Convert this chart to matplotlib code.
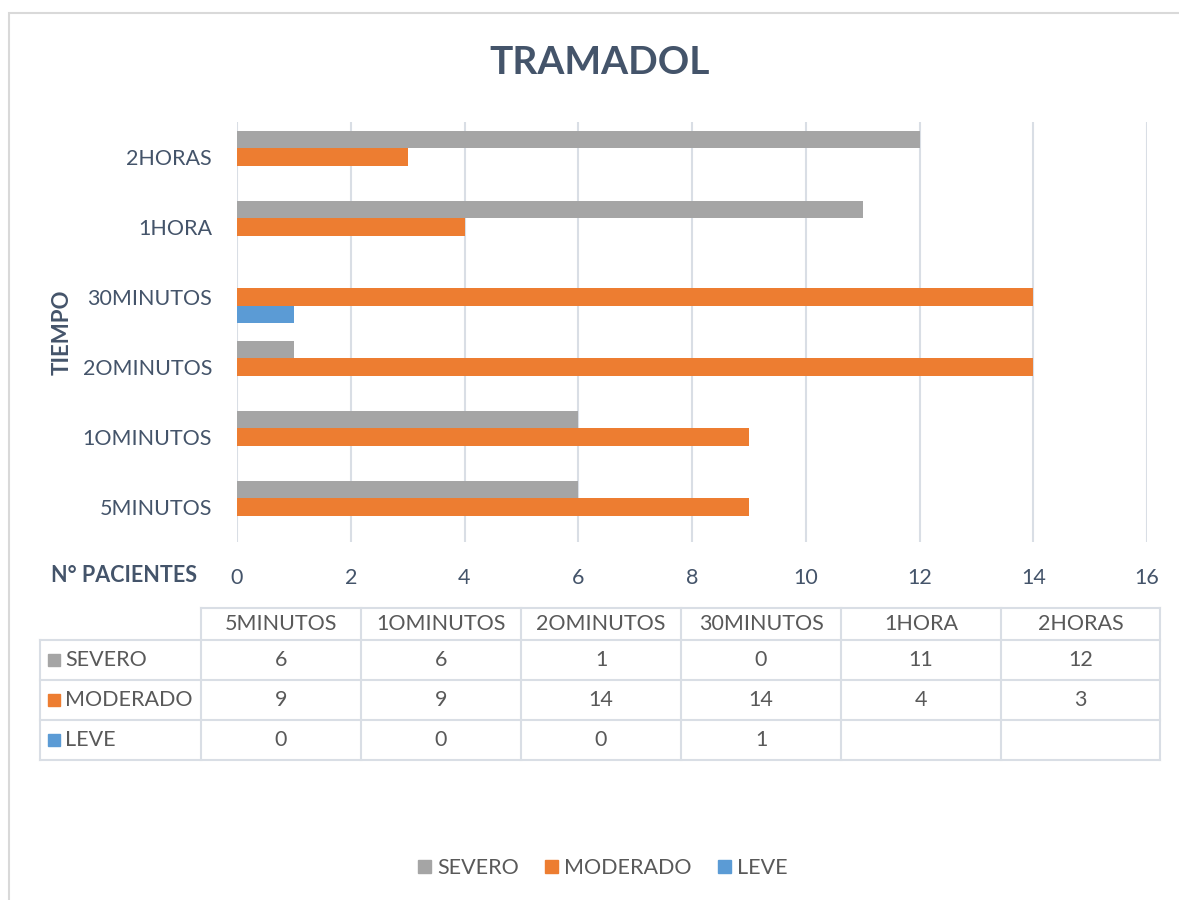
import numpy as np
import matplotlib
matplotlib.use("Agg")
import matplotlib.pyplot as plt
from matplotlib.patches import Rectangle, Patch
from matplotlib.lines import Line2D

categories = ["5MINUTOS", "1OMINUTOS", "2OMINUTOS", "30MINUTOS", "1HORA", "2HORAS"]
severo = [6, 6, 1, 0, 11, 12]
moderado = [9, 9, 14, 14, 4, 3]
leve = [0, 0, 0, 1, None, None]
series_names = ["SEVERO", "MODERADO", "LEVE"]
colors = ["#A5A5A5", "#ED7D31", "#5B9BD5"]
xticks = [0, 2, 4, 6, 8, 10, 12, 14, 16]

plt.rcParams['font.family'] = ['Lato', 'DejaVu Sans']
W, H = 1179, 900
SLATE = "#44546A"
GREY_TXT = "#595959"
LINE = "#D9DEE5"
FS = 15.5

fig = plt.figure(figsize=(W / 100, H / 100), dpi=100)

def fx(px):
    return px / W

def fy(py):
    return 1 - py / H

# outer chart frame
fig.patches.append(Rectangle((fx(9), fy(950)), fx(1200 - 9), (950 - 13) / H,
                             transform=fig.transFigure, fill=False,
                             edgecolor="#D9D9D9", lw=1.5))

ax = fig.add_axes([fx(237), fy(542), fx(1147 - 237), (542 - 122) / H])
y = np.arange(len(categories))
bh = 0.243
ax.barh(y + bh, severo, height=bh, color=colors[0], zorder=3)
ax.barh(y, moderado, height=bh, color=colors[1], zorder=3)
ly = [yy - bh for yy, v in zip(y, leve) if v is not None]
lv = [v for v in leve if v is not None]
ax.barh(ly, lv, height=bh, color=colors[2], zorder=3)

ax.set_xlim(0, 16)
ax.set_ylim(-0.5, len(categories) - 0.5)
ax.set_xticks(xticks)
ax.set_yticks(y)
ax.set_yticklabels(categories)
for s in ax.spines.values():
    s.set_visible(False)
ax.grid(axis='x', color=LINE, lw=1.5, zorder=0)
ax.tick_params(axis='y', length=0, pad=18, labelsize=FS, labelcolor=SLATE)
ax.tick_params(axis='x', length=0, pad=19, labelsize=FS, labelcolor=SLATE)

fig.text(fx(600), fy(62), "TRAMADOL", ha='center', va='center', fontsize=28,
         fontweight='bold', color=SLATE)
fig.text(fx(62), fy(332), "TIEMPO", ha='center', va='center', rotation=90,
         fontsize=16, fontweight='bold', color=SLATE)
fig.text(fx(124), fy(576), "N° PACIENTES", ha='center', va='center',
         fontsize=FS, fontweight='bold', color=SLATE)

# data table
col_edges = [40, 201, 361, 521, 681, 841, 1001, 1160]
row_edges = [608, 640, 680, 720, 760]
tf = fig.transFigure
# horizontal lines
fig.add_artist(Line2D([fx(201), fx(1160)], [fy(608), fy(608)], transform=tf, color=LINE, lw=1.5))
for r in row_edges[1:]:
    fig.add_artist(Line2D([fx(40), fx(1160)], [fy(r), fy(r)], transform=tf, color=LINE, lw=1.5))
# vertical lines
fig.add_artist(Line2D([fx(40), fx(40)], [fy(640), fy(760)], transform=tf, color=LINE, lw=1.5))
for c in col_edges[1:]:
    fig.add_artist(Line2D([fx(c), fx(c)], [fy(608), fy(760)], transform=tf, color=LINE, lw=1.5))

table_rows = [severo, moderado, leve]
for j, cat in enumerate(categories):
    cx = (col_edges[j + 1] + col_edges[j + 2]) / 2
    fig.text(fx(cx), fy(624), cat, ha='center', va='center', fontsize=FS, color=GREY_TXT)
    for i, vals in enumerate(table_rows):
        v = vals[j]
        if v is None:
            continue
        cy = (row_edges[i + 1] + row_edges[i + 2]) / 2
        fig.text(fx(cx), fy(cy), str(v), ha='center', va='center', fontsize=FS, color=GREY_TXT)
for i, name in enumerate(series_names):
    cy = (row_edges[i + 1] + row_edges[i + 2]) / 2
    fig.patches.append(Rectangle((fx(48), fy(cy + 6)), fx(12), 12 / H, transform=tf,
                                 color=colors[i]))
    fig.text(fx(65), fy(cy), name, ha='left', va='center', fontsize=FS, color=GREY_TXT)

handles = [Patch(color=c, label=n) for c, n in zip(colors, series_names)]
leg = fig.legend(handles=handles, loc='center', bbox_to_anchor=(fx(603), fy(868)), ncol=3,
                 frameon=False, fontsize=FS, handlelength=0.6, handleheight=0.6,
                 handletextpad=0.3, columnspacing=1.2)
for t in leg.get_texts():
    t.set_color(GREY_TXT)

fig.savefig("out.png", dpi=100)
